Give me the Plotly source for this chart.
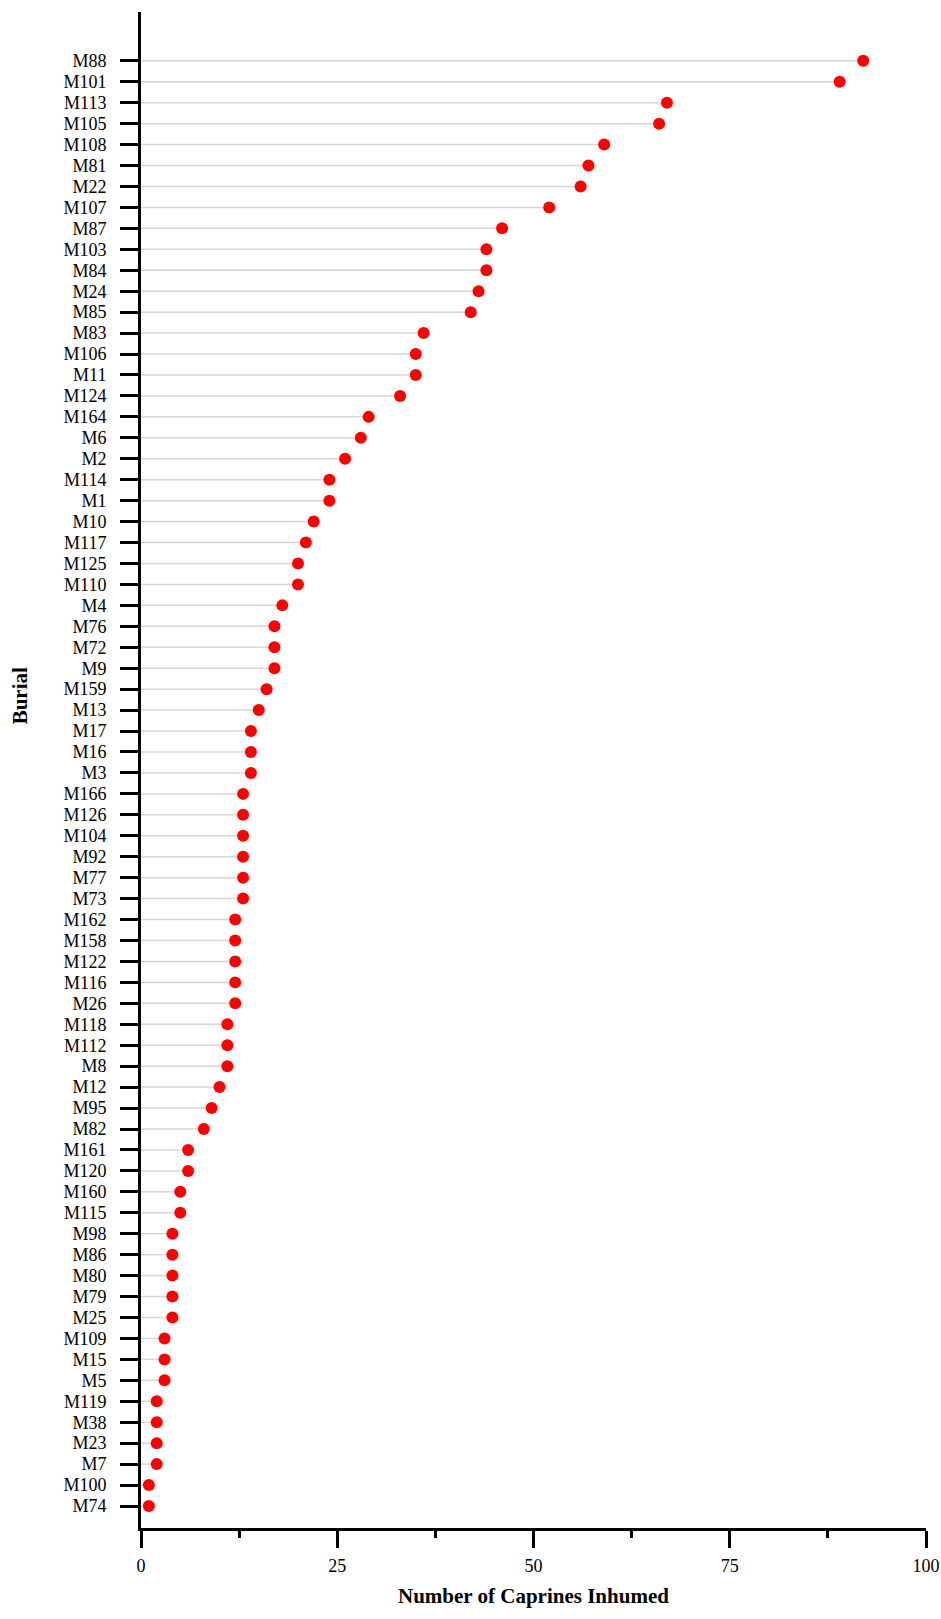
import plotly.graph_objects as go

# Burials, listed from top to bottom
burials = [
    "M88", "M101", "M113", "M105", "M108", "M81", "M22", "M107", "M87", "M103",
    "M84", "M24", "M85", "M83", "M106", "M11", "M124", "M164", "M6", "M2",
    "M114", "M1", "M10", "M117", "M125", "M110", "M4", "M76", "M72", "M9",
    "M159", "M13", "M17", "M16", "M3", "M166", "M126", "M104", "M92", "M77",
    "M73", "M162", "M158", "M122", "M116", "M26", "M118", "M112", "M8", "M12",
    "M95", "M82", "M161", "M120", "M160", "M115", "M98", "M86", "M80", "M79",
    "M25", "M109", "M15", "M5", "M119", "M38", "M23", "M7", "M100", "M74",
]

# Number of caprines inhumed in each burial
caprines = [
    92, 89, 67, 66, 59, 57, 56, 52, 46, 44,
    44, 43, 42, 36, 35, 35, 33, 29, 28, 26,
    24, 24, 22, 21, 20, 20, 18, 17, 17, 17,
    16, 15, 14, 14, 14, 13, 13, 13, 13, 13,
    13, 12, 12, 12, 12, 12, 11, 11, 11, 10,
    9, 8, 6, 6, 5, 5, 4, 4, 4, 4,
    4, 3, 3, 3, 2, 2, 2, 2, 1, 1,
]

x_ticks = [0, 25, 50, 75, 100]

FONT = "Liberation Serif, Times New Roman, serif"

# Stems from zero to each value
stem_x, stem_y = [], []
for b, v in zip(burials, caprines):
    stem_x += [0, v, None]
    stem_y += [b, b, None]

fig = go.Figure()
fig.add_trace(go.Scatter(
    x=stem_x, y=stem_y, mode="lines",
    line=dict(color="#d6d6d6", width=1.5),
    hoverinfo="skip", showlegend=False,
))
fig.add_trace(go.Scatter(
    x=caprines, y=burials, mode="markers",
    marker=dict(color="#ff0000", size=12),
    cliponaxis=False, showlegend=False,
))

fig.update_layout(
    width=941, height=1619,
    margin=dict(l=141, r=15, t=12, b=91),
    plot_bgcolor="white", paper_bgcolor="white",
    font=dict(family=FONT, size=18, color="black"),
    xaxis=dict(
        range=[0, 100], automargin=False,
        tickmode="array", tickvals=x_ticks, ticktext=[str(t) for t in x_ticks],
        ticks="outside", ticklen=17, tickwidth=3, tickcolor="black",
        minor=dict(ticks="outside", ticklen=7, tickwidth=3, tickcolor="black",
                   tick0=0, dtick=12.5),
        showline=True, linecolor="black", linewidth=3,
        showgrid=False, zeroline=False,
        ticklabelstandoff=2,
        tickfont=dict(family=FONT, size=18, color="black"),
    ),
    yaxis=dict(
        type="category", automargin=False,
        categoryorder="array", categoryarray=burials[::-1],
        tickmode="array", tickvals=burials, ticktext=burials,
        range=[-1.05, len(burials) + 1.33],
        ticks="outside", ticklen=18, tickwidth=3, tickcolor="black",
        showline=True, linecolor="black", linewidth=3,
        showgrid=False, zeroline=False,
        ticklabelstandoff=10,
        tickfont=dict(family=FONT, size=18, color="black"),
    ),
    annotations=[
        dict(text="<b>Number of Caprines Inhumed</b>", xref="paper", yref="paper",
             x=0.5, y=-0.0449, xanchor="center", yanchor="middle", showarrow=False,
             font=dict(family=FONT, size=21, color="black")),
        dict(text="<b>Burial</b>", xref="paper", yref="paper",
             x=-0.1537, y=0.5488, xanchor="center", yanchor="middle", showarrow=False,
             textangle=-90, font=dict(family=FONT, size=21, color="black")),
    ],
)

fig.write_html("out.html")
